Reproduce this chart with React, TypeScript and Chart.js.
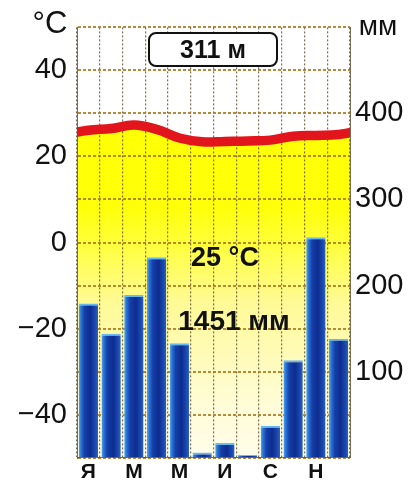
import { useEffect, useRef } from 'react';
import { Chart, registerables } from 'chart.js';

Chart.register(...registerables);

const MONTHS = ['Я', 'Ф', 'М', 'А', 'М', 'И', 'И', 'А', 'С', 'О', 'Н', 'Д'];
const PRECIP_MM = [179, 144, 189, 233, 133, 6, 17, 3, 37, 113, 256, 138];
const TEMP_C = [26.1, 26.5, 27.3, 26.3, 24.3, 23.4, 23.5, 23.6, 23.8, 24.7, 24.9, 25.1];
const TEMP_TICKS = [-40, -20, 0, 20, 40];
const PRECIP_TICKS = [100, 200, 300, 400];
const ALTITUDE = '311 м';
const MEAN_TEMP = '25 °C';
const TOTAL_PRECIP = '1451 мм';

const FONT = '"Liberation Sans", Arial, sans-serif';

export default function App() {
  const ref = useRef<HTMLCanvasElement>(null);

  useEffect(() => {
    document.body.style.margin = '0';
    const canvas = ref.current!;
    // cyclic year: previous December and next January extend the curve to the edges
    const lineData = [
      { x: -0.5, y: TEMP_C[11] },
      ...TEMP_C.map((t, i) => ({ x: i + 0.5, y: t })),
      { x: 12.5, y: TEMP_C[0] },
    ];

    const chart = new Chart(canvas, {
      type: 'bar',
      data: {
        labels: MONTHS,
        datasets: [
          {
            type: 'line',
            data: lineData as any,
            xAxisID: 'xl',
            yAxisID: 'y',
            borderColor: '#e3151c',
            borderWidth: 9.5,
            tension: 0.4,
            pointRadius: 0,
            clip: 0 as any,
            fill: 'start',
            backgroundColor: (ctx: any) => {
              const chart = ctx.chart;
              const a = chart.chartArea;
              if (!a) return '#ffff00';
              const g = chart.ctx.createLinearGradient(0, a.top, 0, a.bottom);
              g.addColorStop(0, '#ffff00');
              g.addColorStop(0.42, '#ffff0a');
              g.addColorStop(0.51, '#ffff40');
              g.addColorStop(0.64, '#fffa96');
              g.addColorStop(0.87, '#fffcd6');
              g.addColorStop(1, '#fffdea');
              return g;
            },
            order: 0,
          } as any,
          {
            type: 'bar',
            data: PRECIP_MM,
            xAxisID: 'x',
            yAxisID: 'y1',
            grouped: false,
            barPercentage: 0.85,
            categoryPercentage: 1,
            borderColor: '#6ab8f0',
            borderWidth: { top: 2, left: 0, right: 0, bottom: 0 },
            borderSkipped: false,
            backgroundColor: (ctx: any) => {
              const chart = ctx.chart;
              if (ctx.dataIndex === undefined || !chart.chartArea) return '#1a3fa8';
              const xs = chart.scales.x;
              const cx = xs.getPixelForValue(ctx.dataIndex);
              const w = 19.5;
              const g = chart.ctx.createLinearGradient(cx - w / 2, 0, cx + w / 2, 0);
              g.addColorStop(0, '#56b0ee');
              g.addColorStop(0.12, '#2b74d8');
              g.addColorStop(0.3, '#1540a8');
              g.addColorStop(0.6, '#0d2c8e');
              g.addColorStop(0.85, '#1a48b0');
              g.addColorStop(1, '#2a64c8');
              return g;
            },
            order: 1,
          } as any,
        ],
      },
      options: {
        responsive: false,
        animation: false,
        devicePixelRatio: 1,
        layout: { padding: { top: 15, left: 0, right: 0, bottom: 0 } },
        plugins: {
          legend: { display: false },
          tooltip: { enabled: false },
          filler: { drawTime: 'beforeDraw' } as any,
        },
        scales: {
          x: {
            type: 'category',
            position: 'bottom',
            offset: true,
            grid: {
              offset: true,
              drawTicks: false,
              color: 'rgba(100,85,55,0.85)',
              lineWidth: 1.2,
            },
            border: { display: true, color: 'rgba(100,85,55,0.85)', dash: [2, 2] },
            ticks: {
              autoSkip: false,
              maxRotation: 0,
              padding: 2,
              color: '#111',
              font: { family: FONT, size: 21, weight: 'bold' },
              callback: (_v: any, i: number) => (i % 2 === 0 ? MONTHS[i] : ''),
            },
            afterFit: (s: any) => {
              s.height = 27;
            },
          },
          xl: {
            type: 'linear',
            position: 'top',
            display: true,
            offset: false,
            min: 0,
            max: 12,
            grid: { display: false, offset: false },
            border: { display: false },
            ticks: { display: false },
            afterFit: (s: any) => {
              s.height = 0;
            },
          },
          y: {
            type: 'linear',
            position: 'left',
            min: -50,
            max: 50,
            ticks: {
              stepSize: 10,
              autoSkip: false,
              padding: 10,
              color: '#111',
              font: { family: FONT, size: 29 },
              callback: (v: any) =>
                TEMP_TICKS.includes(Number(v))
                  ? Number(v) < 0
                    ? '\u2212' + Math.abs(Number(v))
                    : String(v)
                  : '',
            },
            grid: {
              drawTicks: false,
              color: 'rgba(170,118,25,0.85)',
              lineWidth: 2,
            },
            border: { display: true, color: 'rgba(100,85,55,0.85)', dash: [3, 2] },
            afterFit: (s: any) => {
              s.width = 77;
            },
          },
          y1: {
            type: 'linear',
            position: 'right',
            min: 0,
            max: 500,
            ticks: {
              stepSize: 50,
              autoSkip: false,
              padding: 5,
              color: '#111',
              font: { family: FONT, size: 29 },
              callback: (v: any) => (PRECIP_TICKS.includes(Number(v)) ? String(v) : ''),
            },
            grid: { drawOnChartArea: false, drawTicks: false },
            border: { display: true, color: 'rgba(100,85,55,0.85)', dash: [2, 2] },
            afterFit: (s: any) => {
              s.width = 62;
            },
          },
        },
      } as any,
    });
    return () => chart.destroy();
  }, []);

  const txt = (left: number, top: number, size: number, weight: string | number, text: string) => (
    <div
      style={{
        position: 'absolute',
        left,
        top,
        transform: 'translate(-50%, -50%)',
        fontSize: size,
        fontWeight: weight as any,
        lineHeight: 1,
        whiteSpace: 'nowrap',
        color: '#111',
        fontFamily: FONT,
      }}
    >
      {text}
    </div>
  );

  return (
    <div
      style={{
        position: 'absolute',
        left: 0,
        top: 0,
        width: 412,
        height: 485,
        background: '#fff',
        fontFamily: FONT,
        overflow: 'hidden',
      }}
    >
      <canvas
        ref={ref}
        width={412}
        height={485}
        style={{ position: 'absolute', left: 0, top: 0, width: 412, height: 485 }}
      />
      {txt(50, 22, 31, 'normal', '°C')}
      {txt(378, 26, 28, 'normal', 'мм')}
      <div
        style={{
          position: 'absolute',
          left: 148,
          top: 32,
          width: 130,
          height: 35,
          boxSizing: 'border-box',
          border: '2.5px solid #111',
          borderRadius: 8,
          background: '#fff',
          display: 'flex',
          alignItems: 'center',
          justifyContent: 'center',
          fontSize: 25,
          fontWeight: 'bold',
          color: '#111',
          fontFamily: FONT,
          lineHeight: 1,
        }}
      >
        {ALTITUDE}
      </div>
      {txt(225, 257, 27, 'bold', MEAN_TEMP)}
      {txt(234, 321, 28, 'bold', TOTAL_PRECIP)}
    </div>
  );
}
